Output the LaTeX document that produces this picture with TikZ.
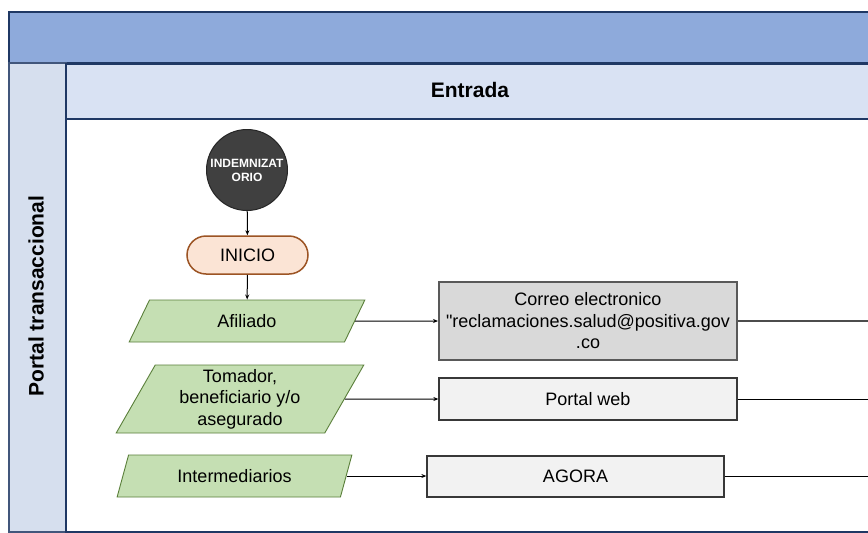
\documentclass[tikz,border=0pt]{standalone}
\usepackage{fontspec}
\setmainfont{Liberation Sans}[Ligatures=TeXOff]
\usetikzlibrary{shapes.geometric,arrows.meta}
\definecolor{navy}{HTML}{1F3864}
\definecolor{barblue}{HTML}{8EAADB}
\definecolor{lanebg}{HTML}{D9E2F3}
\definecolor{sidebg}{HTML}{D6DFEE}
\definecolor{startgray}{HTML}{404040}
\definecolor{peach}{HTML}{FBE4D5}
\definecolor{peachdraw}{HTML}{9C5424}
\definecolor{iogreen}{HTML}{C5DFB3}
\definecolor{iodraw}{HTML}{5A7F3A}
\definecolor{boxgray}{HTML}{D9D9D9}
\definecolor{boxlight}{HTML}{F2F2F2}
\tikzset{
  x=1pt,y=-1pt,
  txt/.style={font=\fontsize{18}{21.5}\selectfont, align=center, text=black},
  iobox/.style={trapezium, trapezium left angle=65, trapezium right angle=115,
     trapezium stretches=true, fill=iogreen, draw=iodraw, line width=0.9pt, inner sep=0pt, txt},
  sysbox/.style={rectangle, draw=black!78, line width=1.3pt, fill=boxlight, inner sep=0pt, txt},
  conn/.style={line width=1pt, black},
  arr/.style={conn, -{Stealth[length=5pt,width=4pt]}},
}
\begin{document}
\begin{tikzpicture}
\useasboundingbox (0,0) rectangle (868,533);
% swimlane frame
\node[rectangle, draw=navy, line width=2pt, fill=barblue, minimum width=880, minimum height=51, inner sep=0pt, anchor=north west] (topbar) at (8,11) {};
\node[rectangle, draw=navy!85, line width=1.5pt, fill=sidebg, minimum width=57, minimum height=469, inner sep=0pt, anchor=north west] (side) at (8,62) {};
\node[rectangle, draw=navy, line width=2pt, fill=lanebg, minimum width=820, minimum height=55, inner sep=0pt, anchor=north west] (lanehead) at (65,63) {};
\node[rectangle, draw=navy, line width=1.5pt, fill=white, minimum width=820, minimum height=413, inner sep=0pt, anchor=north west] (lane) at (65,118) {};
\node[font=\fontsize{21}{24}\selectfont\bfseries] (entrada) at (470,90) {Entrada};
\node[font=\fontsize{21}{24}\selectfont\bfseries, rotate=90] (portal) at (36,296) {Portal transaccional};
% flow
\node[circle, fill=startgray, draw=black!85, line width=1pt, minimum size=81, inner sep=0pt, text=white, align=center, font=\fontsize{12}{14}\selectfont\bfseries] (ind) at (247,170) {INDEMNIZAT\\ORIO};
\node[rectangle, rounded corners=19, fill=peach, draw=peachdraw, line width=1.5pt, minimum width=121, minimum height=38, inner sep=0pt, txt] (inicio) at (247.5,255) {INICIO};
\node[iobox, minimum width=236, minimum height=42] (afil) at (247,321) {Afiliado};
\node[iobox, minimum width=248, minimum height=68] (tom) at (240,399) {Tomador,\\beneficiario y/o\\asegurado};
\node[iobox, minimum width=235, minimum height=42] (inter) at (234.5,476) {Intermediarios};
\node[sysbox, fill=boxgray, draw=black!65, line width=2pt, minimum width=298, minimum height=78] (correo) at (588,321) {Correo electronico\\"reclamaciones.salud@positiva.gov\\.co};
\node[sysbox, minimum width=298, minimum height=42] (web) at (588,399) {Portal web};
\node[sysbox, minimum width=297, minimum height=41] (agora) at (575.5,476.5) {AGORA};
\coordinate (o1) at (875,321);
\coordinate (o2) at (875,399);
\coordinate (o3) at (875,476.5);
\draw[arr] (ind) -- (inicio);
\draw[arr] (inicio) -- (afil);
\draw[arr] (afil.east) -- (correo.west);
\draw[arr] (tom.east) -- (web.west);
\draw[arr] (inter.east) -- (agora.west |- inter.east);
\draw[conn, line width=1.5pt, black!70] (correo.east) -- (o1);
\draw[conn] (web.east) -- (o2);
\draw[conn] (agora.east) -- (o3);
\end{tikzpicture}
\end{document}
